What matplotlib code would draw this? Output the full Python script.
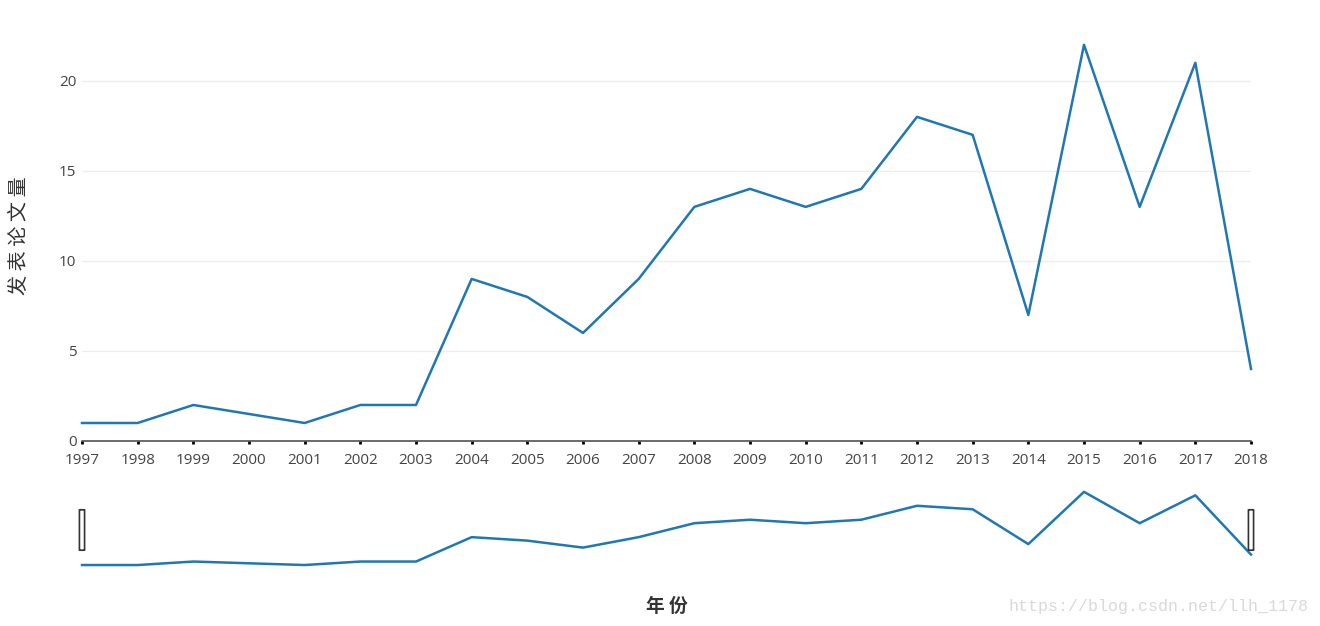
import matplotlib
matplotlib.use('Agg')
import matplotlib.pyplot as plt
from matplotlib.patches import FancyBboxPatch

plt.rcParams['font.family'] = ['Open Sans', 'Noto Sans CJK SC', 'DejaVu Sans']

# data (2000 has no point)
years = [1997, 1998, 1999, 2001, 2002, 2003, 2004, 2005, 2006, 2007, 2008,
         2009, 2010, 2011, 2012, 2013, 2014, 2015, 2016, 2017, 2018]
papers = [1, 1, 2, 1, 2, 2, 9, 8, 6, 9, 13,
          14, 13, 14, 18, 17, 7, 22, 13, 21, 4]
tick_years = list(range(1997, 2019))
y_ticks = [0, 5, 10, 15, 20]
y_title = '发 表 论 文 量'
x_title = '年 份'
watermark = 'https://blog.csdn.net/llh_1178'

line_color = '#1f77b4'
text_color = '#444444'

fig = plt.figure(figsize=(13.2, 6.26), dpi=100)

# main plot
ax = fig.add_axes([82 / 1320, 1 - 441 / 626, (1251 - 82) / 1320, 416 / 626])
ax.plot(years, papers, color=line_color, linewidth=1.8, clip_on=False)
ax.set_xlim(1997, 2018)
ax.set_ylim(0, 23.1)
ax.set_xticks(tick_years)
ax.set_xticklabels([str(y) for y in tick_years])
ax.set_yticks(y_ticks)
ax.grid(axis='y', color='#eeeeee', linewidth=1)
ax.set_axisbelow(True)
for side in ['top', 'right', 'left']:
    ax.spines[side].set_visible(False)
ax.spines['bottom'].set_color('#444444')
ax.spines['bottom'].set_linewidth(1.1)
ax.tick_params(axis='x', colors='black', length=2.5, width=2, direction='out',
               pad=6, labelsize=11, labelcolor=text_color)
ax.tick_params(axis='y', length=0, pad=4, labelsize=11, labelcolor=text_color)

# range slider
sl = fig.add_axes([82 / 1320, 1 - 572 / 626, (1251 - 82) / 1320, 84 / 626])
sl.plot(years, papers, color=line_color, linewidth=1.8, clip_on=False)
sl.set_xlim(1997, 2018)
sl.set_ylim(-1, 23.1)
sl.axis('off')
for hx in [0.0, 1.0]:
    handle = FancyBboxPatch((hx - 0.0012, 0.26), 0.0024, 0.48,
                            boxstyle='round,pad=0.001,rounding_size=0.002',
                            transform=sl.transAxes, facecolor='white',
                            edgecolor='#333333', linewidth=1.2, clip_on=False,
                            zorder=5)
    sl.add_patch(handle)

# axis titles
fig.text(667 / 1320, 1 - 606 / 626, x_title, ha='center', va='center',
         fontsize=13.5, fontweight='bold', color='#333333',
         family=['Noto Sans CJK SC'])
fig.text(20 / 1320, 1 - 236 / 626, y_title, ha='center', va='center',
         rotation=90, fontsize=14.5, color='#333333',
         family=['Noto Sans CJK SC'])

fig.text(1308 / 1320, 1 - 606 / 626, watermark, ha='right', va='center',
         fontsize=12, color='#d9d9d9', family=['Liberation Mono'])

fig.savefig('out.png', dpi=100)
